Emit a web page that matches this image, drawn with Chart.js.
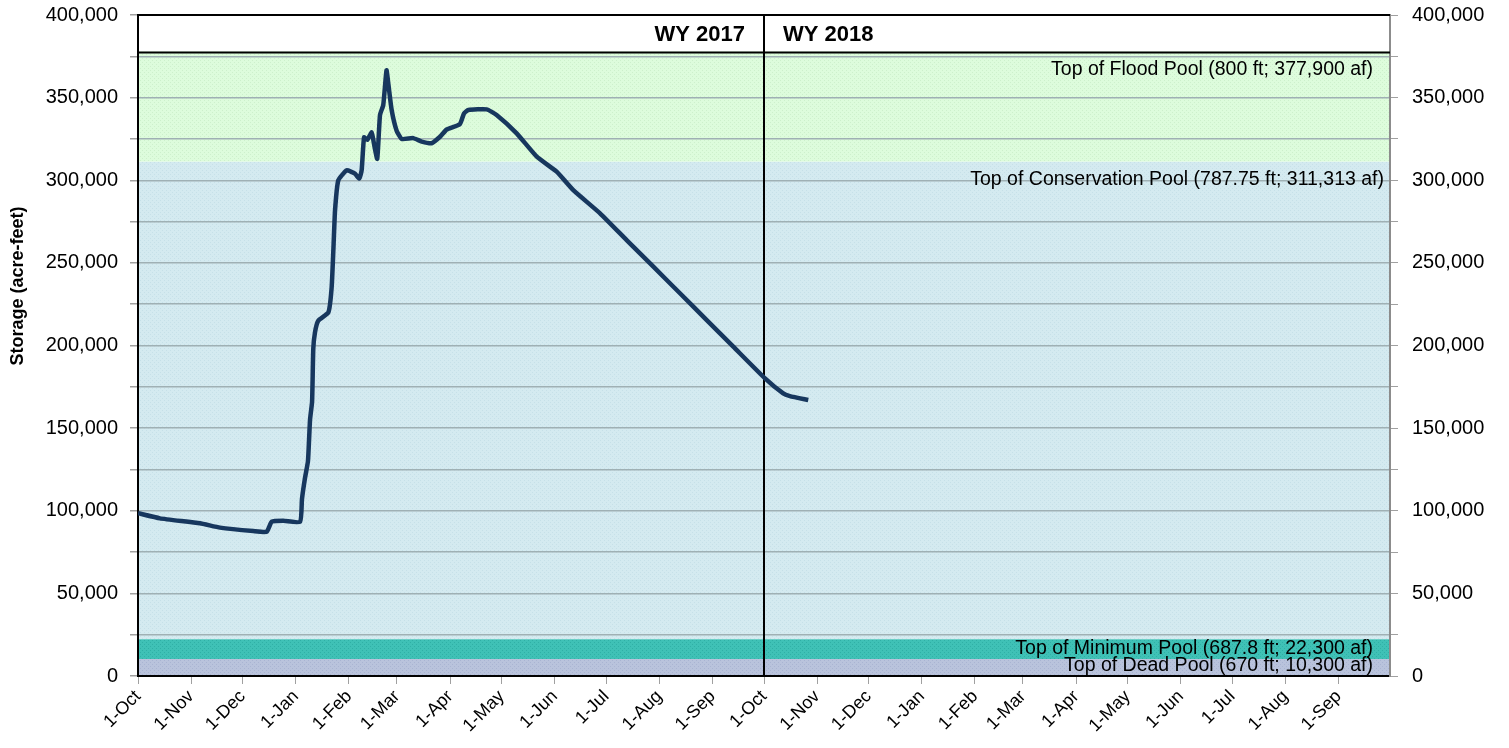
<!DOCTYPE html>
<html lang="en">
<head>
<meta charset="utf-8">
<title>Storage</title>
<script src="https://cdn.jsdelivr.net/npm/chart.js@4.4.1/dist/chart.umd.min.js"></script>
<style>
    html, body { margin: 0; padding: 0; background: #ffffff; }
    #graphique { display: block; }
</style>
</head>
<body>
<canvas id="graphique" width="1509" height="748"></canvas>
<script>
// Jours depuis le 1er octobre 2016 et volume stocké (acre-feet)
const jours = [0, 12.8, 36.1, 47.8, 67.2, 75, 78, 84.7, 94.5,
    95.6, 97.4, 99.1, 100.3, 101.5, 102.2, 103.2, 105.1,
    111, 112.9, 114, 114.9, 116.8,
    121.7, 126.5, 129, 130.4, 131.8, 133.7, 136.3, 137.6, 139.5,
    141.1, 143, 144.9, 146, 147.9, 150.8, 153.8,
    160.5, 165.4, 171.2, 176.1, 180,
    187.7, 190.1, 192.6, 203.3, 209.1,
    220.8, 232.5, 244.1, 253.8, 269.4,
    284.9, 300.5, 316, 331.6, 347.1,
    365.6, 376.2, 380.1, 390.8];
const stockage = [98500, 95400, 92400, 89800, 87700, 87300, 93400, 94000, 93400,
    107000, 120000, 130000, 155000, 166000, 198000, 208000, 215000,
    220000, 235000, 260000, 282000, 300000,
    306000, 304000, 301000, 306000, 326000, 324500, 329000, 322000, 313000,
    339500, 345500, 366500, 358000, 342500, 330000, 325000,
    325500, 323400, 322400, 326300, 330700,
    334000, 340500, 342500, 342900, 339500,
    328400, 314300, 305200, 294000, 280000,
    263800, 247700, 231600, 215400, 199300,
    180100, 171000, 169400, 167000];

// Début de chaque mois sur deux années hydrologiques
const debutsMois = [0, 31, 61, 92, 123, 151, 182, 212, 243, 273, 304, 335,
    365, 396, 426, 457, 488, 516, 547, 577, 608, 638, 669, 700];
const etiquettesMois = ['1-Oct', '1-Nov', '1-Dec', '1-Jan', '1-Feb', '1-Mar', '1-Apr', '1-May', '1-Jun', '1-Jul', '1-Aug', '1-Sep',
    '1-Oct', '1-Nov', '1-Dec', '1-Jan', '1-Feb', '1-Mar', '1-Apr', '1-May', '1-Jun', '1-Jul', '1-Aug', '1-Sep'];

// Niveaux des réserves (bas, haut) et textes
const reserveBas = [0, 10300, 22300, 311313];
const reserveHaut = [10300, 22300, 311313, 377900];
const reserveTextes = ['Top of Dead Pool (670 ft; 10,300 af)',
    'Top of Minimum Pool (687.8 ft; 22,300 af)',
    'Top of Conservation Pool (787.75 ft; 311,313 af)',
    'Top of Flood Pool (800 ft; 377,900 af)'];
const debutAnnee2018 = 365;
const anneesHydro = ['WY 2017', 'WY 2018'];

const reserveCouleurs = [['#b9c3dc', '#a9b4d2'], ['#3fc1b6', '#2fb0a6'], ['#d4eaf0', '#c6e0e8'], ['#ddfcdc', '#cdf0cc']];

function motifHachure(fond, point) {
    // Petit motif pointillé pour imiter le remplissage des zones
    const c = document.createElement('canvas');
    c.width = 4; c.height = 4;
    const g = c.getContext('2d');
    g.fillStyle = fond;
    g.fillRect(0, 0, 4, 4);
    g.fillStyle = point;
    g.fillRect(0, 0, 1, 1);
    g.fillRect(2, 2, 1, 1);
    return g.createPattern(c, 'repeat');
}

const policeBase = "'Liberation Sans', Arial, sans-serif";

const pluginReserves = {
    id: 'reserves',
    beforeDraw(chart) {
        const { ctx, chartArea, scales } = chart;
        const y = scales.y;
        ctx.save();
        for (let i = 0; i < reserveBas.length; i++) {
            const haut = y.getPixelForValue(reserveHaut[i]);
            const bas = y.getPixelForValue(reserveBas[i]);
            ctx.fillStyle = motifHachure(reserveCouleurs[i][0], reserveCouleurs[i][1]);
            ctx.fillRect(chartArea.left, haut, chartArea.right - chartArea.left, bas - haut);
        }
        ctx.restore();
    },
    beforeDatasetsDraw(chart) {
        const { ctx, chartArea, scales } = chart;
        const x = scales.x, y = scales.y;
        ctx.save();
        // Ligne du haut de la réserve de crue et bord supérieur
        ctx.strokeStyle = '#000000';
        ctx.lineWidth = 2;
        const yCrue = Math.round(y.getPixelForValue(reserveHaut[3])) + 0.5;
        ctx.beginPath();
        ctx.moveTo(chartArea.left, yCrue);
        ctx.lineTo(chartArea.right, yCrue);
        ctx.moveTo(chartArea.left, chartArea.top);
        ctx.lineTo(chartArea.right, chartArea.top);
        ctx.stroke();
        // Séparation des années hydrologiques
        const xAn = Math.round(x.getPixelForValue(debutAnnee2018));
        ctx.beginPath();
        ctx.moveTo(xAn, chartArea.top);
        ctx.lineTo(xAn, chartArea.bottom);
        ctx.stroke();

        ctx.fillStyle = '#000000';
        ctx.font = 'bold 22px ' + policeBase;
        ctx.textBaseline = 'middle';
        const yAn = (chartArea.top + yCrue) / 2 + 1;
        ctx.textAlign = 'right';
        ctx.fillText(anneesHydro[0], xAn - 19, yAn);
        ctx.textAlign = 'left';
        ctx.fillText(anneesHydro[1], xAn + 19, yAn);

        // Textes des réserves
        ctx.font = '19.5px ' + policeBase;
        ctx.textAlign = 'right';
        const decalages = [7, 9, 18, 18];
        const marges = [17, 17, 6, 17];
        for (let i = 0; i < reserveTextes.length; i++) {
            const yt = y.getPixelForValue(reserveHaut[i]) + decalages[i];
            ctx.fillText(reserveTextes[i], chartArea.right - marges[i], yt);
        }

        // Titre de l'axe vertical
        ctx.font = 'bold 18px ' + policeBase;
        ctx.textAlign = 'center';
        ctx.translate(18, 286);
        ctx.rotate(-Math.PI / 2);
        ctx.fillText('Storage (acre-feet)', 0, 0);
        ctx.restore();
    }
};

function formatNombre(v) {
    return v.toLocaleString('en-US');
}

function ajusterAxeY(largeur) {
    // Largeur fixe et pas de marge haute/basse ajoutée par les étiquettes
    return (scale) => {
        scale.width = largeur;
        scale.paddingTop = 0;
        scale.paddingBottom = 0;
    };
}

const ctx = document.getElementById('graphique').getContext('2d');
new Chart(ctx, {
    type: 'line',
    data: {
        datasets: [{
            data: jours.map((j, i) => ({ x: j, y: stockage[i] })),
            borderColor: '#17375e',
            borderWidth: 4.5,
            pointRadius: 0,
            tension: 0.15,
            fill: false,
        }],
    },
    options: {
        responsive: false,
        animation: false,
        layout: { padding: { top: 15, left: 0, right: 0, bottom: 0 } },
        plugins: {
            legend: { display: false },
            tooltip: { enabled: false },
        },
        scales: {
            x: {
                type: 'linear',
                min: 0,
                max: 730,
                afterBuildTicks: (scale) => {
                    scale.ticks = debutsMois.map(v => ({ value: v }));
                },
                afterFit: (scale) => {
                    scale.height = 72;
                    scale.paddingLeft = 0;
                    scale.paddingRight = 0;
                },
                ticks: {
                    autoSkip: false,
                    maxRotation: 45,
                    minRotation: 45,
                    padding: 2,
                    color: '#000000',
                    font: { size: 18, family: policeBase },
                    callback: (v, i) => etiquettesMois[i],
                },
                grid: {
                    drawOnChartArea: false,
                    drawTicks: true,
                    tickLength: 8,
                    color: '#a0a0a0',
                },
                border: { color: '#000000', width: 2 },
            },
            y: {
                position: 'left',
                min: 0,
                max: 400000,
                afterFit: ajusterAxeY(138),
                ticks: {
                    stepSize: 25000,
                    padding: 12,
                    color: '#000000',
                    font: { size: 20, family: policeBase },
                    callback: (v) => (v % 50000 === 0 ? formatNombre(v) : ''),
                },
                grid: {
                    color: '#9fb0b4',
                    lineWidth: 1.5,
                    tickLength: 8,
                    tickColor: '#a0a0a0',
                },
                border: { color: '#000000', width: 2 },
            },
            y2: {
                position: 'right',
                min: 0,
                max: 400000,
                afterFit: ajusterAxeY(119),
                ticks: {
                    stepSize: 25000,
                    padding: 14,
                    color: '#000000',
                    font: { size: 20, family: policeBase },
                    callback: (v) => (v % 50000 === 0 ? formatNombre(v) : ''),
                },
                grid: {
                    drawOnChartArea: false,
                    tickLength: 8,
                    color: '#a0a0a0',
                },
                border: { color: '#8c8c8c', width: 2 },
            },
        },
    },
    plugins: [pluginReserves],
});
</script>
</body>
</html>
